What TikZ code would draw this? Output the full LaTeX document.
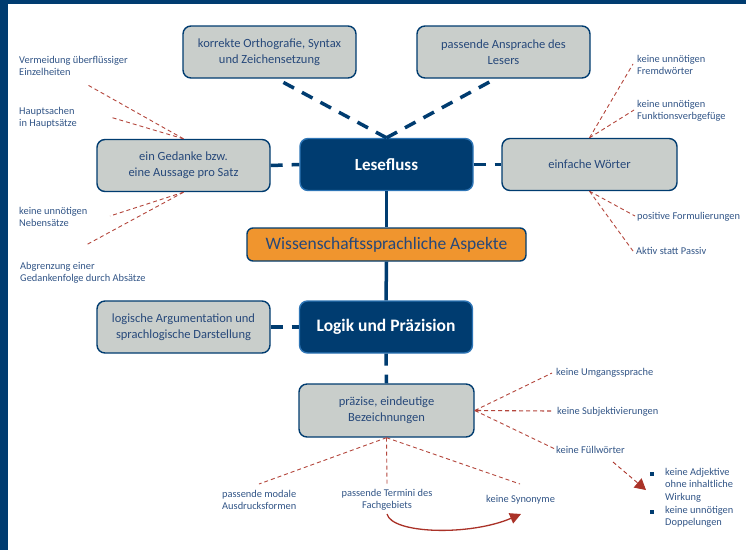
\documentclass[tikz,border=0pt]{standalone}
\usepackage{fontspec}
\setmainfont{Carlito}
\usetikzlibrary{arrows.meta}
\definecolor{frameblue}{RGB}{0,60,112}
\definecolor{rimblue}{RGB}{46,117,182}
\definecolor{boxgrey}{RGB}{201,206,203}
\definecolor{boxorange}{RGB}{240,149,46}
\definecolor{txtblue}{RGB}{38,72,122}
\definecolor{lblue}{RGB}{50,85,135}
\definecolor{redline}{RGB}{180,70,60}
\definecolor{redarrow}{RGB}{170,50,40}
\tikzset{
  greybox/.style={draw=frameblue, line width=1.4pt, fill=boxgrey, rounded corners=8pt,
    minimum width=173pt, minimum height=52pt, align=center, text=txtblue,
    font=\fontsize{12.5}{16}\selectfont, inner sep=2pt},
  darkbox/.style={draw=rimblue, line width=1.4pt, fill=frameblue, rounded corners=8pt,
    minimum width=173pt, minimum height=52pt, align=center, text=white,
    font=\fontsize{17.5}{20}\selectfont\bfseries, inner sep=2pt},
  orangebox/.style={draw=frameblue, line width=1.4pt, fill=boxorange, rounded corners=6pt,
    minimum width=279pt, minimum height=33pt, align=center, text=txtblue,
    font=\fontsize{17.5}{20}\selectfont, inner sep=2pt},
  lbl/.style={text=lblue, font=\fontsize{10.4}{12.4}\selectfont, inner sep=0pt},
  bluesolid/.style={draw=frameblue, line width=3.5pt},
  bluedash/.style={draw=frameblue, line width=3.5pt, dash pattern=on 12pt off 9pt},
  reddash/.style={draw=redline, line width=0.9pt, dash pattern=on 4pt off 3pt},
  bulletsq/.style={fill=frameblue, minimum size=3.2pt, inner sep=0pt},
}
\begin{document}
\begin{tikzpicture}[x=1pt,y=-1pt]
\useasboundingbox (0,0) rectangle (746,550);
\fill[white] (0,0) rectangle (746,550);
% frame
\fill[frameblue] (0,0) rectangle (746,3.8);
\fill[frameblue] (0,0) rectangle (7.6,550);

% main nodes
\node[greybox] (ortho) at (269.5,52) {korrekte Orthografie, Syntax\\und Zeichensetzung};
\node[greybox] (ansp) at (503.5,52) {passende Ansprache des\\Lesers};
\node[greybox] (gedanke) at (183.5,165.5) {ein Gedanke bzw.\\eine Aussage pro Satz};
\node[darkbox, font=\fontsize{17}{20}\selectfont\bfseries] (lese) at (386.5,164.5) {Lesefluss};
\node[greybox, minimum width=175pt] (einf) at (589.5,164.5) {einfache Wörter};
\node[orangebox] (wiss) at (386.5,244.5) {Wissenschaftssprachliche Aspekte};
\node[greybox] (logarg) at (183.5,327) {logische Argumentation und\\sprachlogische Darstellung};
\node[darkbox] (logik) at (386,327) {Logik und Präzision};
\node[greybox, minimum width=175pt, minimum height=53pt] (praez) at (386.5,410.5) {präzise, eindeutige\\Bezeichnungen};

% blue connectors
\draw[bluedash, shorten >=4pt] (lese.north) -- ([xshift=7pt]ortho.south);
\draw[bluedash, shorten >=3pt] (lese.north) -- ([xshift=-8pt]ansp.south);
\draw[bluedash] (gedanke.east) -- (lese.west);
\draw[bluedash] (lese.east) -- (einf.west);
\draw[bluesolid] (lese.south) -- (wiss.north);
\draw[bluesolid] (wiss.south) -- (logik.north);
\draw[bluedash] (logarg.east) -- (logik.west);
\draw[bluedash] (logik.south) -- (praez.north);

% labels left
\node[lbl, anchor=west, align=left] (l1) at (19,66) {Vermeidung überflüssiger\\Einzelheiten};
\node[lbl, anchor=west, align=left] (l2) at (19,117.5) {Hauptsachen\\in Hauptsätze};
\node[lbl, anchor=west, align=left] (l3) at (19,217) {keine unnötigen\\Nebensätze};
\node[lbl, anchor=west, align=left] (l4) at (20,273) {Abgrenzung einer\\Gedankenfolge durch Absätze};
% labels right
\node[lbl, anchor=west, align=left] (r1) at (637,65) {keine unnötigen\\Fremdwörter};
\node[lbl, anchor=west, align=left] (r2) at (637,111) {keine unnötigen\\Funktionsverbgefüge};
\node[lbl, anchor=west] (r3) at (637,217) {positive Formulierungen};
\node[lbl, anchor=west] (r4) at (636,251) {Aktiv statt Passiv};
% labels praez
\node[lbl, anchor=west] (p1) at (556,373) {keine Umgangssprache};
\node[lbl, anchor=west] (p2) at (557,412) {keine Subjektivierungen};
\node[lbl, anchor=west] (p3) at (556,450) {keine Füllwörter};
\node[lbl, anchor=west, align=left] (b1) at (222,500) {passende modale\\Ausdrucksformen};
\node[lbl, align=center] (b2) at (387,499.5) {passende Termini des\\Fachgebiets};
\node[lbl, anchor=west] (b3) at (486,500) {keine Synonyme};
% bullet list
\node[bulletsq] (s1) at (652,474) {};
\node[bulletsq] (s2) at (652,512) {};
\node[lbl, anchor=north west, align=left] (t1) at (665,468) {keine Adjektive\\ohne inhaltliche\\Wirkung};
\node[lbl, anchor=north west, align=left] (t2) at (665,506) {keine unnötigen\\Doppelungen};

% coordinates for free ends
\coordinate (c1) at (86,84);
\coordinate (c2) at (110,117);
\coordinate (c3) at (110,216);
\coordinate (c4) at (86,245);
\coordinate (c5) at (633,64);
\coordinate (c6) at (634,110);
\coordinate (c7) at (635,216);
\coordinate (c8) at (633,251);
\coordinate (c9) at (552,373);
\coordinate (c10) at (552,411);
\coordinate (c11) at (555,449);
\coordinate (c12) at (613,462);
\coordinate (c13) at (646,490);
\coordinate (c14) at (259,484);
\coordinate (c15) at (387,485);
\coordinate (c16) at (520,484);
\coordinate (c17) at (387,514);
\coordinate (c18) at (521,514);

% red dashed
\draw[reddash] (gedanke.north) -- (c1);
\draw[reddash] (gedanke.north) -- (c2);
\draw[reddash] (gedanke.south) -- (c3);
\draw[reddash] (gedanke.south) -- (c4);
\draw[reddash] (einf.north) -- (c5);
\draw[reddash] (einf.north) -- (c6);
\draw[reddash] (einf.south) -- (c7);
\draw[reddash] (einf.south) -- (c8);
\draw[reddash] (praez.east) -- (c9);
\draw[reddash, line width=1.1pt, {Stealth[length=4pt,width=4pt]}-] (praez.east) -- (c10);
\draw[reddash] (praez.east) -- (c11);
\draw[reddash] (praez.south) -- (c14);
\draw[reddash] (praez.south) -- (c15);
\draw[reddash] (praez.south) -- (c16);
\draw[reddash, -{Triangle[length=11pt,width=12pt]}, redarrow] (c12) -- (c13);
\draw[redarrow, line width=1.3pt, -{Triangle[length=11pt,width=11pt]}] (c17) .. controls (392,534) and (470,536) .. (c18);
\end{tikzpicture}
\end{document}
